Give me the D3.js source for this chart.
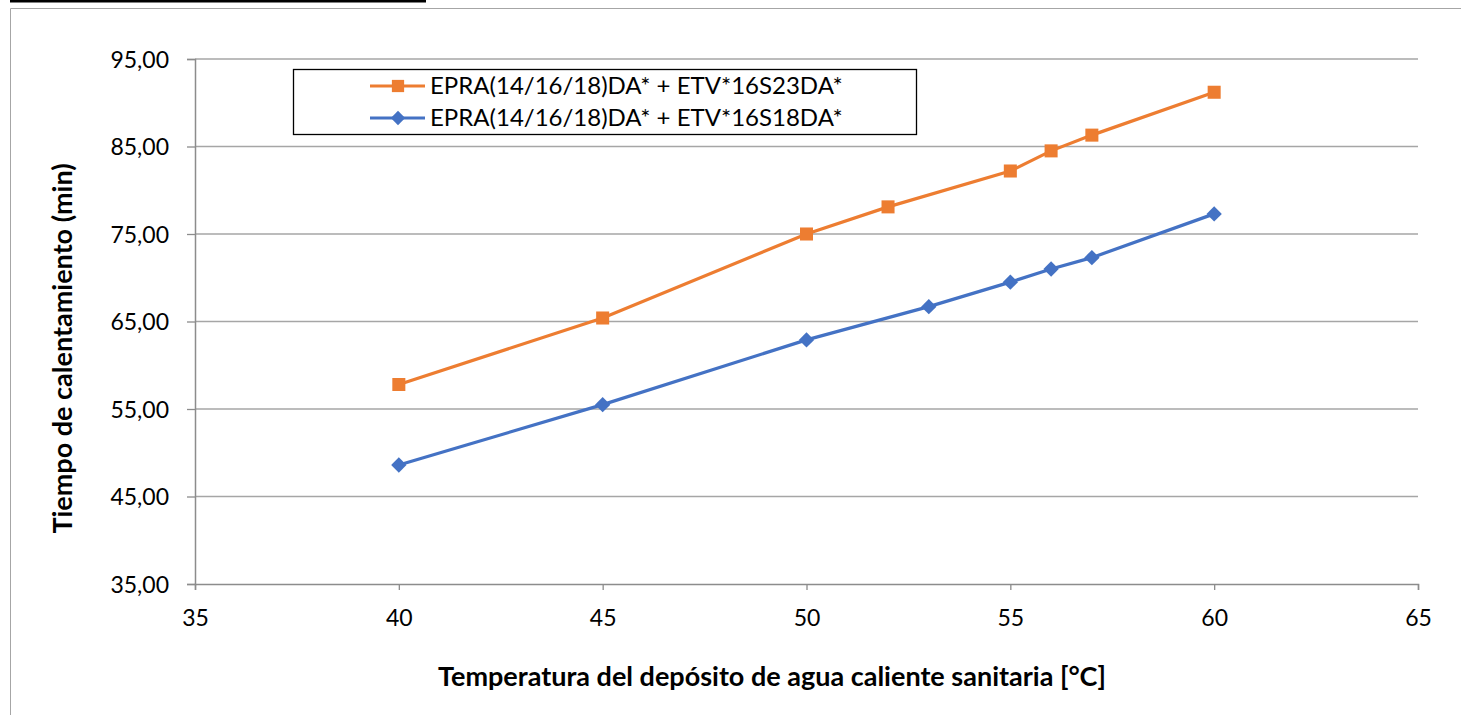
<!DOCTYPE html>
<html><head><meta charset="utf-8">
<script src="https://cdn.jsdelivr.net/npm/d3@7"></script>
<style>
html,body{margin:0;padding:0;background:#fff;}
svg{display:block;font-family:Lato,"Open Sans",sans-serif;}
</style></head>
<body>
<svg id="c" width="1461" height="715"></svg>
<script>
const xTicks = [35, 40, 45, 50, 55, 60, 65];
const yTicks = [35, 45, 55, 65, 75, 85, 95];
const seriesNames = ["EPRA(14/16/18)DA* + ETV*16S23DA*", "EPRA(14/16/18)DA* + ETV*16S18DA*"];
const seriesColors = ["#ED7D31", "#4472C4"];
const xOrange = [40, 45, 50, 52, 55, 56, 57, 60];
const yOrange = [57.8, 65.4, 75.0, 78.1, 82.2, 84.5, 86.3, 91.2];
const xBlue = [40, 45, 50, 53, 55, 56, 57, 60];
const yBlue = [48.6, 55.5, 62.9, 66.7, 69.5, 71.0, 72.3, 77.3];
const xTitle = "Temperatura del depósito de agua caliente sanitaria [°C]";
const yTitle = "Tiempo de calentamiento (min)";

const svg = d3.select("#c");
const L = 195, R = 1418, T = 59, B = 584;
const x = d3.scaleLinear().domain([35, 65]).range([L, R]);
const y = d3.scaleLinear().domain([35, 95]).range([B, T]);
const fmt = v => d3.format(".2f")(v).replace(".", ",");

// outer frame
svg.append("line").attr("x1", 10).attr("x2", 426).attr("y1", 1).attr("y2", 1).attr("stroke", "#000").attr("stroke-width", 3);
svg.append("path").attr("d", "M10.5,715 V8.5 H1461").attr("fill", "none").attr("stroke", "#a6a6a6").attr("stroke-width", 1);

// gridlines
svg.append("g").selectAll("line").data(yTicks.slice(1)).join("line")
  .attr("x1", L).attr("x2", R).attr("y1", d => y(d)).attr("y2", d => y(d))
  .attr("stroke", "#a6a6a6").attr("stroke-width", 1.3);

// axes
const yAxis = svg.append("g").attr("transform", `translate(${L},0)`)
  .call(d3.axisLeft(y).tickValues(yTicks).tickFormat(fmt).tickSize(8).tickPadding(18));
const xAxis = svg.append("g").attr("transform", `translate(0,${B})`)
  .call(d3.axisBottom(x).tickValues(xTicks).tickFormat(d3.format("d")).tickSize(6).tickPadding(20));
[yAxis, xAxis].forEach(g => {
  g.select(".domain").attr("stroke", "#8c8c8c").attr("stroke-width", 1.5);
  g.selectAll(".tick line").attr("stroke", "#8c8c8c").attr("stroke-width", 1.3);
  g.selectAll("text").attr("fill", "#000").style("font-size", "23px").style("font-family", "Lato, 'Open Sans', sans-serif");
});
yAxis.selectAll("text").attr("dy", "0.35em");

// titles
svg.append("text").attr("x", 772).attr("y", 686).attr("text-anchor", "middle")
  .style("font-size", "27px").style("font-weight", "bold").text(xTitle);
svg.append("text").attr("transform", `translate(72,${(T + B) / 2 + 27}) rotate(-90)`).attr("text-anchor", "middle")
  .style("font-size", "27px").style("font-weight", "bold").text(yTitle);

// series
const data = [
  { name: seriesNames[0], color: seriesColors[0], shape: d3.symbolSquare, pts: xOrange.map((v, i) => [v, yOrange[i]]) },
  { name: seriesNames[1], color: seriesColors[1], shape: d3.symbolDiamond2, pts: xBlue.map((v, i) => [v, yBlue[i]]) }
];
const line = d3.line().x(d => x(d[0])).y(d => y(d[1]));
data.forEach(s => {
  svg.append("path").datum(s.pts).attr("d", line).attr("fill", "none").attr("stroke", s.color).attr("stroke-width", 3.2);
  svg.append("g").selectAll("path").data(s.pts).join("path")
    .attr("transform", d => `translate(${x(d[0])},${y(d[1])})`)
    .attr("d", d3.symbol().type(s.shape).size(s.shape === d3.symbolSquare ? 170 : 150))
    .attr("fill", s.color);
});

// legend
const lg = svg.append("g");
lg.append("rect").attr("x", 293.5).attr("y", 69.5).attr("width", 623).attr("height", 65)
  .attr("fill", "#fff").attr("stroke", "#000").attr("stroke-width", 1.3);
data.forEach((s, i) => {
  const cy = 86 + i * 32;
  lg.append("line").attr("x1", 370).attr("x2", 425).attr("y1", cy).attr("y2", cy).attr("stroke", s.color).attr("stroke-width", 3.2);
  lg.append("path").attr("transform", `translate(398,${cy})`)
    .attr("d", d3.symbol().type(s.shape).size(s.shape === d3.symbolSquare ? 150 : 130)).attr("fill", s.color);
  lg.append("text").attr("x", 430).attr("y", cy).attr("dy", "0.35em").style("font-size", "24px").text(s.name);
});
</script>
</body></html>
